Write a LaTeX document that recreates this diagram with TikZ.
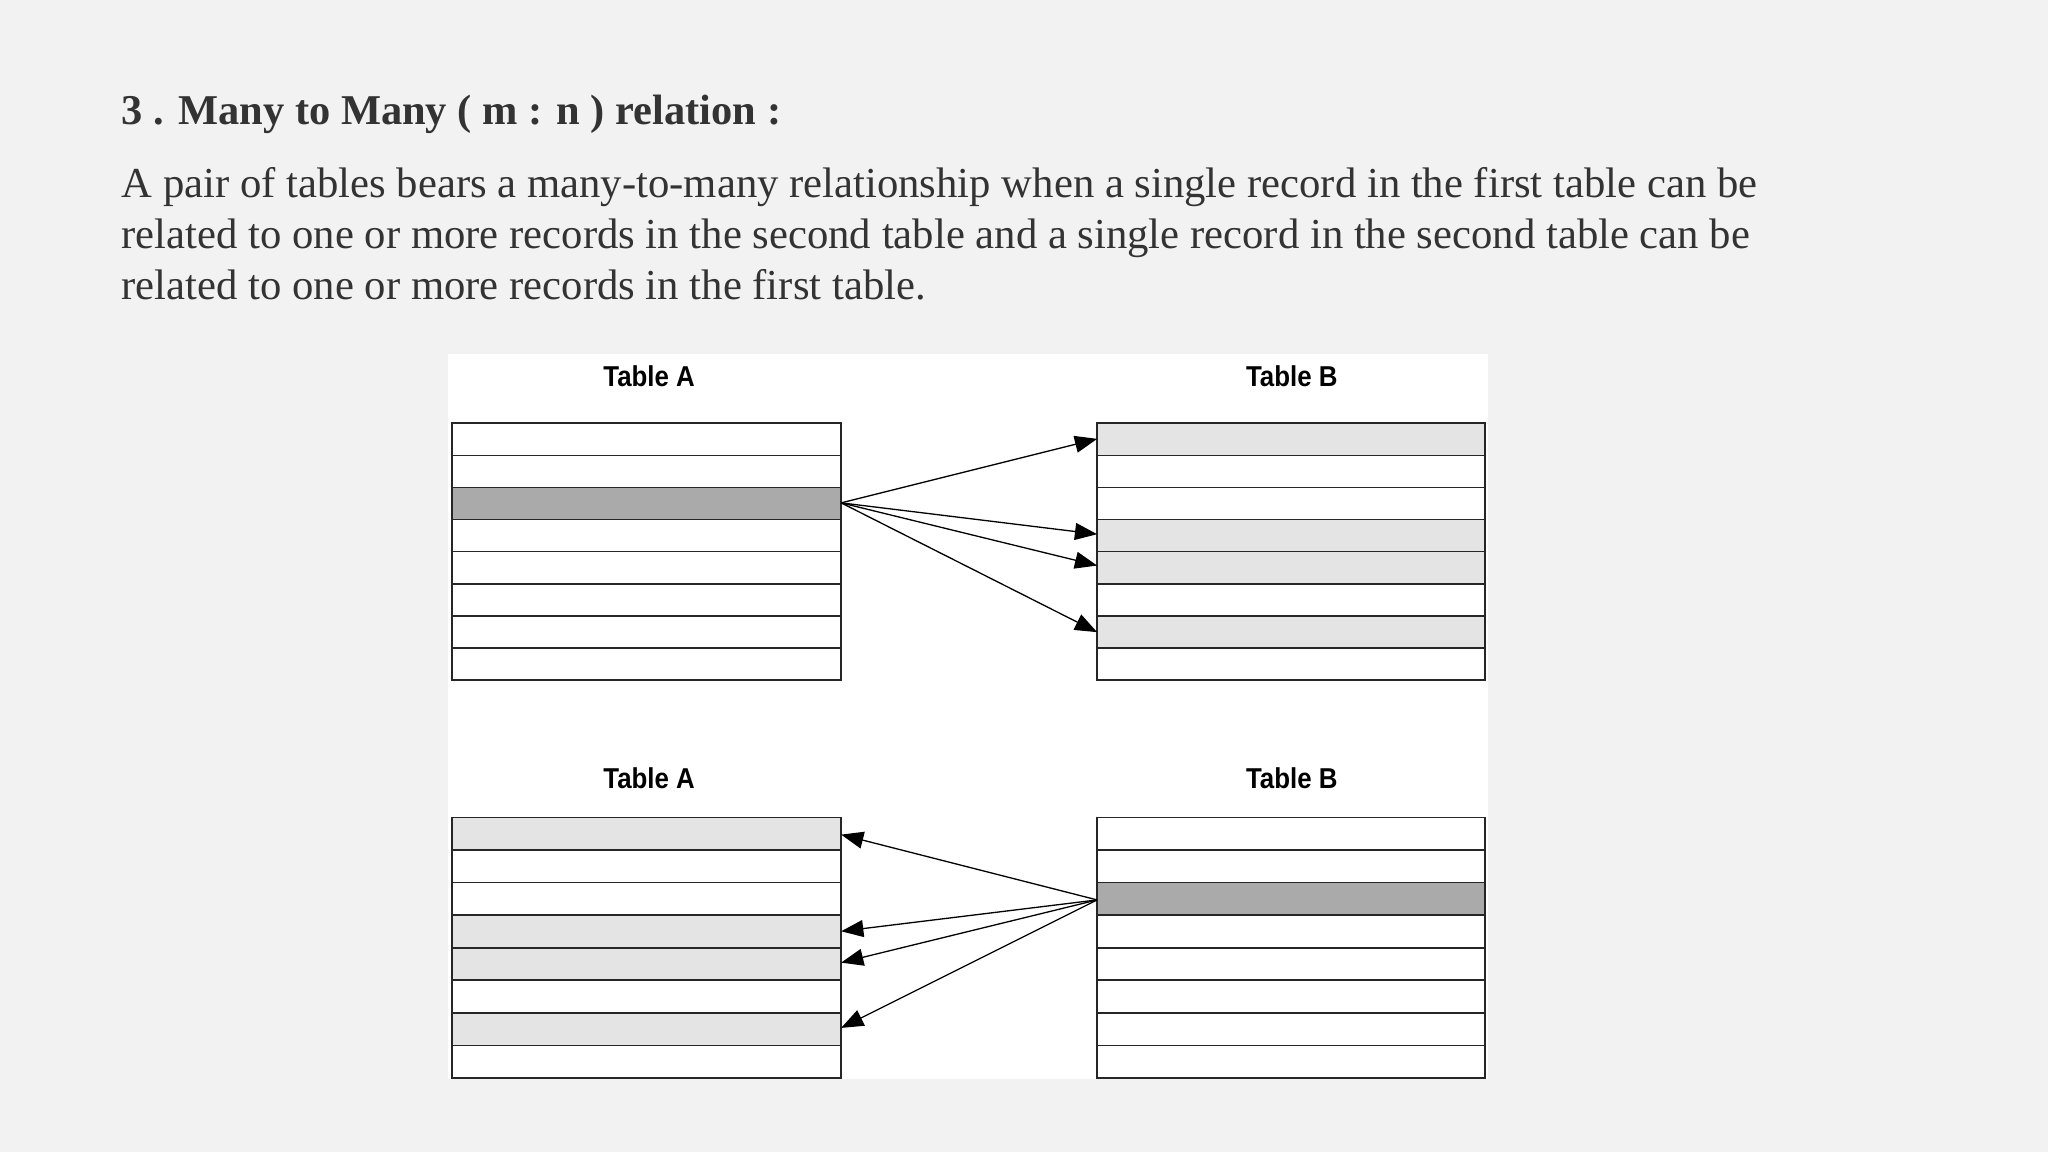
\documentclass[tikz,border=0pt]{standalone}
\usepackage{fontspec}
\setmainfont{Liberation Serif}
\newfontfamily\lsans{Liberation Sans}
\usetikzlibrary{arrows.meta}
\definecolor{bg}{HTML}{F2F2F2}
\definecolor{txt}{HTML}{333333}
\definecolor{dark}{HTML}{AAAAAA}
\definecolor{light}{HTML}{E4E4E4}
\tikzset{
 rowbox/.style={draw=black!85,line width=1.2pt},
 lbl/.style={font=\lsans\bfseries\fontsize{22}{24}\selectfont,inner sep=0,xscale=0.9},
 ptxt/.style={anchor=base west,inner sep=0,text=txt,font=\fontsize{32.7}{39}\selectfont},
 conn/.style={line width=1pt,-{Triangle[length=17pt,width=13pt]}},
}
\begin{document}
\begin{tikzpicture}[x=1pt,y=-1pt]
\fill[bg] (0,0) rectangle (1568,882);
\useasboundingbox (0,0) rectangle (1568,882);
\node[anchor=base west,inner sep=0,text=txt,font=\bfseries\fontsize{32.5}{36}\selectfont] (title) at (93,95) {3 . Many to Many ( m : n ) relation :};
\node[ptxt] (p1) at (93,151) {A pair of tables bears a many-to-many relationship when a single record in the first table can be};
\node[ptxt] (p2) at (93,190) {related to one or more records in the second table and a single record in the second table can be};
\node[ptxt] (p3) at (93,229) {related to one or more records in the first table.};
\fill[white] (343,271) rectangle (1139,826);
\node[lbl] (la1) at (497,288) {Table A};
\node[lbl] (lb1) at (989,288) {Table B};
\node[lbl] (la2) at (497,596) {Table A};
\node[lbl] (lb2) at (989,596) {Table B};
\foreach \i/\c in {0/white,1/white,2/dark,3/white,4/white,5/white,6/white,7/white}
  \filldraw[rowbox,fill=\c] (346,324+\i*24.6) rectangle (644,324+\i*24.6+24.6);
\foreach \i/\c in {0/light,1/white,2/white,3/light,4/light,5/white,6/light,7/white}
  \filldraw[rowbox,fill=\c] (840,324+\i*24.6) rectangle (1137,324+\i*24.6+24.6);
\foreach \i/\c in {0/light,1/white,2/white,3/light,4/light,5/white,6/light,7/white}
  \filldraw[rowbox,fill=\c] (346,626+\i*24.9) rectangle (644,626+\i*24.9+24.9);
\foreach \i/\c in {0/white,1/white,2/dark,3/white,4/white,5/white,6/white,7/white}
  \filldraw[rowbox,fill=\c] (840,626+\i*24.9) rectangle (1137,626+\i*24.9+24.9);
\coordinate (s1) at (644,385);
\coordinate (t1) at (840,336);
\coordinate (t2) at (840,409);
\coordinate (t3) at (840,433);
\coordinate (t4) at (840,484);
\foreach \t in {t1,t2,t3,t4} \draw[conn] (s1) -- (\t);
\coordinate (s2) at (840,689);
\coordinate (u1) at (644,639);
\coordinate (u2) at (644,713);
\coordinate (u3) at (644,737);
\coordinate (u4) at (644,787);
\foreach \t in {u1,u2,u3,u4} \draw[conn] (s2) -- (\t);
\end{tikzpicture}
\end{document}
